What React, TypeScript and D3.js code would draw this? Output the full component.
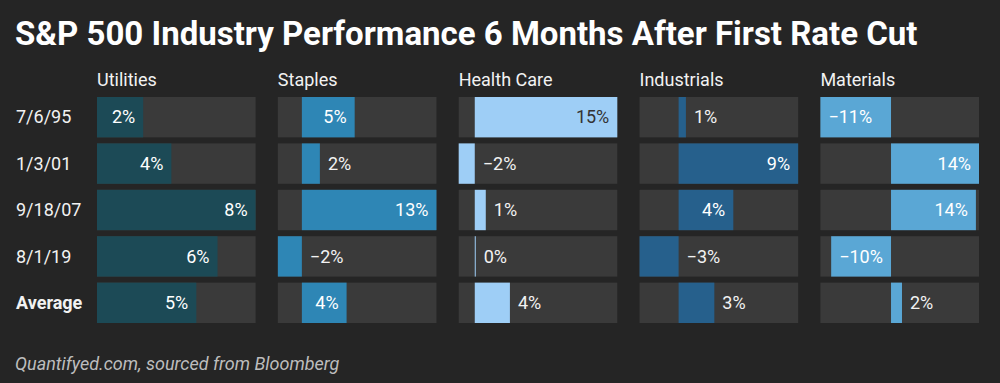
import React from "react";
import * as d3 from "d3";

const title = "S&P 500 Industry Performance 6 Months After First Rate Cut";
const source = "Quantifyed.com, sourced from Bloomberg";

const rowLabels = ["7/6/95", "1/3/01", "9/18/07", "8/1/19", "Average"];
const columns = ["Utilities", "Staples", "Health Care", "Industrials", "Materials"];

const utilities = [2.33, 3.75, 8.0, 6.08, 5.01];
const staples = [5.1, 1.74, 13.0, -2.32, 4.32];
const healthCare = [15.0, -1.69, 1.16, 0.1, 3.7];
const industrials = [0.55, 9.0, 4.12, -2.94, 2.69];
const materials = [-11.4, 14.2, 13.7, -9.66, 1.77];

const seriesValues = [utilities, staples, healthCare, industrials, materials];
const barColors = ["#1c4a56", "#2e86b5", "#9ecef6", "#26608c", "#5aa7d5"];
const insideTextColors = ["#ffffff", "#ffffff", "#333333", "#ffffff", "#ffffff"];

const W = 1000;
const H = 383;
const FONT = "Roboto, 'Noto Sans', sans-serif";
const LABEL_FS = 18;
const PAD = 8;

function fmt(v: number) {
  const r = Math.round(v);
  return (r < 0 ? "\u2212" + Math.abs(r) : String(r === 0 ? 0 : r)) + "%";
}
function textWidth(s: string) {
  let w = 0;
  for (const c of s) {
    if (c === "%") w += 0.733;
    else if (c === "\u2212") w += 0.57;
    else w += 0.562;
  }
  return w * LABEL_FS;
}

export default function App() {
  const xCol = d3.scaleBand<string>().domain(columns).range([97, 979]).paddingInner(0.123);
  const yRow = d3.scaleBand<string>().domain(rowLabels).range([97, 323]).paddingInner(0.13);
  const bw = xCol.bandwidth();
  const bh = yRow.bandwidth();

  return (
    <svg width={W} height={H} style={{ position: "absolute", left: 0, top: 0, background: "#252525" }} fontFamily={FONT}>
      <rect x={0} y={0} width={W} height={H} fill="#252525" />
      <text x={15} y={44.5} fill="#ffffff" fontSize={33} fontWeight={700}>{title}</text>
      {rowLabels.map((r, i) => (
        <text key={r} x={16} y={(yRow(r) as number) + bh / 2} dy="0.35em" fill="#f2f2f2" fontSize={18}
          fontWeight={i === rowLabels.length - 1 ? 700 : 400}>{r}</text>
      ))}
      {columns.map((c, ci) => {
        const vals = seriesValues[ci];
        const x0 = xCol(c) as number;
        const ext = d3.extent([0, ...vals]) as [number, number];
        const xs = d3.scaleLinear().domain(ext).range([x0, x0 + bw]);
        const zero = xs(0);
        return (
          <g key={c}>
            <text x={x0} y={85.5} fill="#f2f2f2" fontSize={18}>{c}</text>
            {rowLabels.map((r, ri) => {
              const v = vals[ri];
              const y = yRow(r) as number;
              const xa = Math.min(xs(v), zero);
              const wBar = Math.max(Math.abs(xs(v) - zero), 1);
              const label = fmt(v);
              const tw = textWidth(label);
              const inside = wBar >= tw + 2 * PAD - 2;
              let tx: number;
              let anchor: "start" | "end";
              let fill = "#f2f2f2";
              if (inside) {
                fill = insideTextColors[ci];
                if (v >= 0) { tx = xs(v) - PAD; anchor = "end"; }
                else { tx = xs(v) + PAD; anchor = "start"; }
              } else {
                if (v >= 0) { tx = xs(v) + PAD; anchor = "start"; }
                else { tx = zero + PAD; anchor = "start"; }
              }
              return (
                <g key={r}>
                  <rect x={x0} y={y} width={bw} height={bh} fill="#3a3a3a" />
                  <rect x={xa} y={y} width={wBar} height={bh} fill={barColors[ci]} />
                  <text x={tx} y={y + bh / 2} dy="0.35em" textAnchor={anchor} fill={fill} fontSize={LABEL_FS}>{label}</text>
                </g>
              );
            })}
          </g>
        );
      })}
      <text x={15} y={370} fill="#bdbdbd" fontSize={18} fontStyle="italic">{source}</text>
    </svg>
  );
}
